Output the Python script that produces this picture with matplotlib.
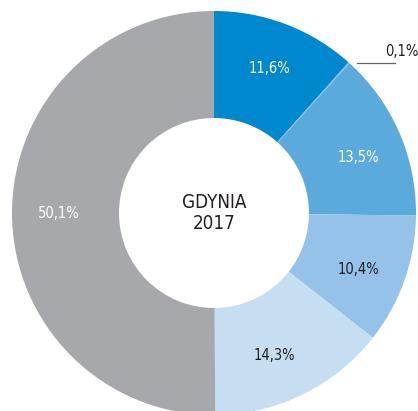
import matplotlib
matplotlib.use("Agg")
import matplotlib.pyplot as plt
from matplotlib import font_manager
import numpy as np

labels = ["11,6%", "0,1%", "13,5%", "10,4%", "14,3%", "50,1%"]
values = [11.6, 0.1, 13.5, 10.4, 14.3, 50.1]
colors = ["#0088CE", "#7DB8E2", "#5AAADC", "#94C2E8", "#C6DEF2", "#A7A8AC"]
label_colors = ["white", None, "white", "#231F20", "#231F20", "white"]
center_text = "GDYNIA\n2017"

plt.rcParams["font.family"] = ["DejaVu Sans"]
cond = [f.fname for f in font_manager.fontManager.ttflist
        if "Condensed" in f.fname and "DejaVuSans" in f.fname
        and "Bold" not in f.fname and "Oblique" not in f.fname]
fp = font_manager.FontProperties(fname=cond[0]) if cond else font_manager.FontProperties(family="DejaVu Sans")

W, H = 418, 411
fig = plt.figure(figsize=(W / 100, H / 100), dpi=100)
ax = fig.add_axes([0, 0, 1, 1])

cx, cy = 214, H - 213
R, r = 202, 95
wedges, _ = ax.pie(values, colors=colors, startangle=90, counterclock=False,
                   center=(cx, cy), radius=R, frame=True,
                   wedgeprops=dict(width=R - r, linewidth=0))
ax.set_xlim(0, W)
ax.set_ylim(0, H)
ax.axis("off")

total = sum(values)
cum = 0
lab_r = 155
ang_shift = [0, 0, -2.5, -2, -3, 0]
for v, lab, lc, sh in zip(values, labels, label_colors, ang_shift):
    mid = cum + v / 2
    cum += v
    ang = np.deg2rad(90 - 360 * mid / total + sh)
    if lc is None:
        x0 = cx + R * np.cos(ang)
        y0 = cy + R * np.sin(ang)
        ax.plot([x0 + 8, x0 + 46], [y0, y0], color="#666666", lw=0.9)
        ax.text(x0 + 36, y0 + 4, lab, color="#231F20", fontproperties=fp,
                fontsize=10.5, ha="left", va="bottom")
        continue
    ax.text(cx + lab_r * np.cos(ang), cy + lab_r * np.sin(ang), lab, color=lc,
            fontproperties=fp, fontsize=10.5, ha="center", va="center")

ax.text(cx, cy, center_text, ha="center", va="center", fontproperties=fp,
        fontsize=13.5, color="#231F20", linespacing=1.15)

fig.savefig("out.png", dpi=100)
